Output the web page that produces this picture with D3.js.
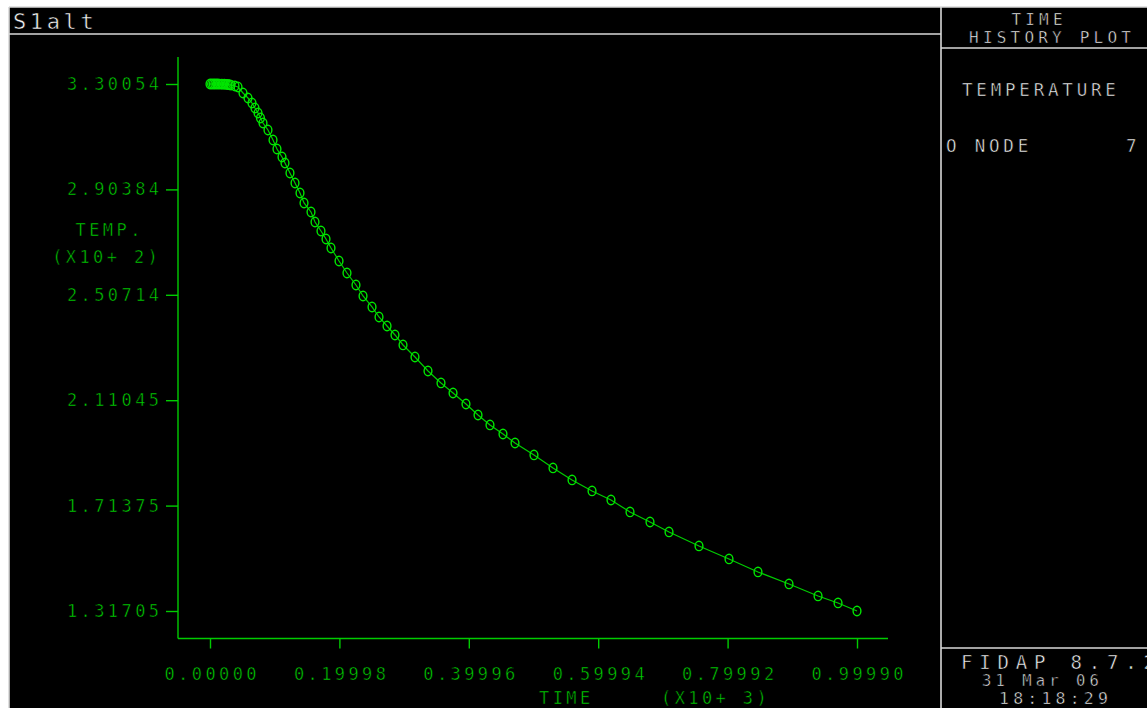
<!DOCTYPE html>
<html>
<head>
<meta charset="utf-8">
<script src="https://cdn.jsdelivr.net/npm/d3@7/dist/d3.min.js"></script>
<style>
  html, body { margin: 0; padding: 0; background: #ffffff; }
  svg { display: block; }
  text {
    font-family: "DejaVu Sans Mono", "Liberation Mono", monospace;
    stroke: #000;
    stroke-width: 0.55px;
  }
</style>
</head>
<body>
<svg id="chart" width="1147" height="708"></svg>
<script>
// Node 7 temperature history (time in s, temperature in K)
const times = [
  0, 2.5, 5, 7.5, 10, 12.5, 15, 17.5, 20, 22.5, 25, 27.5, 30, 32.5, 38.6,
  43.3, 51.0, 58.7, 64.9, 69.5, 74.2, 78.0, 81.9, 89.6, 97.4, 103.5, 111.3,
  115.9, 123.6, 131.4, 139.1, 145.3, 156.1, 162.3, 171.5, 179.3, 187.0,
  199.4, 211.7, 225.6, 236.5, 250.4, 261.2, 273.6, 285.9, 298.3, 316.8,
  336.9, 357.0, 375.6, 395.6, 414.2, 432.7, 452.8, 471.4, 500.7, 530.1,
  559.5, 590.4, 619.7, 649.1, 680.0, 709.4, 755.7, 802.1, 846.9, 894.8,
  939.7, 970.6, 999.9
];
const temps = [
  330.054, 330.054, 330.054, 330.053, 330.05, 330.045, 330.035, 330.02, 330.0,
  329.97, 329.93, 329.87, 329.78, 329.65, 329.3,
  328.92, 326.67, 324.78, 322.90, 321.02, 319.14, 317.26, 315.38, 312.74,
  308.98, 305.59, 302.58, 300.32, 296.56, 292.79, 289.03, 285.27, 281.88,
  278.12, 274.73, 271.72, 268.33, 263.44, 258.92, 254.41, 250.27, 246.13,
  242.36, 238.98, 235.59, 231.83, 227.31, 222.04, 217.53, 213.76, 209.62,
  205.48, 201.72, 198.33, 194.94, 190.43, 185.54, 181.02, 176.88, 173.49,
  168.98, 165.21, 161.45, 156.18, 151.29, 146.40, 141.88, 137.37, 134.73,
  131.705
];

// Axis ticks
const xTicks = [0, 199.98, 399.96, 599.94, 799.92, 999.90];
const xTickLabels = ["0.00000", "0.19998", "0.39996", "0.59994", "0.79992", "0.99990"];
const yTicks = [330.054, 290.384, 250.714, 211.045, 171.375, 131.705];
const yTickLabels = ["3.30054", "2.90384", "2.50714", "2.11045", "1.71375", "1.31705"];

// Text blocks
const titleText = "S1alt";
const panelTitle = ["TIME", "HISTORY PLOT"];
const variableName = "TEMPERATURE";
const nodeLabel = "O NODE";
const nodeNumber = "7";
const footer = ["FIDAP 8.7.2", "31 Mar 06", "18:18:29"];
const yAxisTitle = ["TEMP.", "(X10+ 2)"];
const xAxisTitle = ["TIME", "(X10+ 3)"];

const GREEN = "#00cc00";
const TEXTGREEN = "#00d400";
const MARK = "#00e600";
const WHITE = "#f4f4f4";
const FRAME = "#d8d8d8";

const svg = d3.select("#chart");

// Black display area and frame
svg.append("rect").attr("x", 9).attr("y", 7).attr("width", 1138).attr("height", 701).attr("fill", "#000");
const frame = svg.append("g").attr("stroke", FRAME).attr("stroke-width", 1.6).attr("fill", "none");
frame.append("line").attr("x1", 9).attr("y1", 7).attr("x2", 1147).attr("y2", 7);
frame.append("line").attr("x1", 9).attr("y1", 7).attr("x2", 9).attr("y2", 708);
frame.append("line").attr("x1", 9).attr("y1", 34).attr("x2", 941).attr("y2", 34);
frame.append("line").attr("x1", 941).attr("y1", 7).attr("x2", 941).attr("y2", 708);
frame.append("line").attr("x1", 941).attr("y1", 48).attr("x2", 1147).attr("y2", 48);
frame.append("line").attr("x1", 941).attr("y1", 648).attr("x2", 1147).attr("y2", 648);

function label(txt, x, y, size, spacing, color, anchor) {
  const t = svg.append("text")
    .attr("x", x).attr("y", y)
    .attr("fill", color)
    .attr("font-size", size)
    .attr("dominant-baseline", "central")
    .style("letter-spacing", spacing + "px")
    .text(txt);
  if (anchor === "middle") t.attr("text-anchor", "middle").attr("dx", spacing / 2);
  if (anchor === "end") t.attr("text-anchor", "end").attr("dx", spacing);
  return t;
}

// Title and side panel
label(titleText, 13, 21, 22, 3.6, WHITE, "start");
label(panelTitle[0], 1037, 19.5, 16, 4.2, WHITE, "middle");
label(panelTitle[1], 1050, 37, 16, 4.2, WHITE, "middle");
label(variableName, 962, 90, 17.5, 3.8, WHITE, "start");
label(nodeLabel, 946, 146, 17.5, 3.8, WHITE, "start");
label(nodeNumber, 1126, 146, 17.5, 3.8, WHITE, "start");
label(footer[0], 961, 662, 19, 6.8, WHITE, "start");
label(footer[1], 982, 681, 15.5, 4.1, WHITE, "start");
label(footer[2], 999, 698, 16.5, 4.2, WHITE, "start");

// Scales
const x = d3.scaleLinear().domain([0, 999.9]).range([210, 857]);
const y = d3.scaleLinear().domain([131.705, 330.054]).range([611, 84]);

// Axis lines
const axisG = svg.append("g").attr("stroke", GREEN).attr("stroke-width", 1.4);
axisG.append("line").attr("x1", 178).attr("y1", 57).attr("x2", 178).attr("y2", 638.5);
axisG.append("line").attr("x1", 178).attr("y1", 638.5).attr("x2", 888).attr("y2", 638.5);

// Y axis ticks and labels
const yAxis = d3.axisLeft(y)
  .tickValues(yTicks)
  .tickFormat((d, i) => yTickLabels[i])
  .tickSize(12)
  .tickPadding(7);
const yg = svg.append("g").attr("transform", "translate(178,0)").call(yAxis);
yg.select(".domain").remove();
yg.selectAll(".tick line").attr("stroke", GREEN).attr("stroke-width", 1.4);
yg.selectAll(".tick text")
  .attr("fill", TEXTGREEN)
  .attr("font-size", 17)
  .attr("font-family", "DejaVu Sans Mono, monospace")
  .attr("dx", 3.4)
  .style("letter-spacing", "3.4px");

// X axis ticks and labels
const xAxis = d3.axisBottom(x)
  .tickValues(xTicks)
  .tickFormat((d, i) => xTickLabels[i])
  .tickSize(10)
  .tickPadding(30);
const xg = svg.append("g").attr("transform", "translate(0,638.5)").call(xAxis);
xg.select(".domain").remove();
xg.selectAll(".tick line").attr("stroke", GREEN).attr("stroke-width", 1.4);
xg.selectAll(".tick text")
  .attr("fill", TEXTGREEN)
  .attr("font-size", 17)
  .attr("font-family", "DejaVu Sans Mono, monospace")
  .attr("dy", "0.1em")
  .attr("dx", 1.7)
  .style("letter-spacing", "3.4px");

// Axis titles
label(yAxisTitle[0], 108, 230, 17, 3.4, TEXTGREEN, "middle");
label(yAxisTitle[1], 105, 257, 17, 3.4, TEXTGREEN, "middle");
label(xAxisTitle[0], 539, 698, 17, 3.4, TEXTGREEN, "start");
label(xAxisTitle[1], 661, 698, 17, 3.4, TEXTGREEN, "start");

// Curve and markers
const pts = times.map((t, i) => [t, temps[i]]);
const line = d3.line().x(d => x(d[0])).y(d => y(d[1]));
svg.append("path").datum(pts)
  .attr("d", line)
  .attr("fill", "none")
  .attr("stroke", GREEN)
  .attr("stroke-width", 1.2);

svg.append("g").selectAll("ellipse").data(pts).join("ellipse")
  .attr("cx", d => x(d[0]))
  .attr("cy", d => y(d[1]))
  .attr("rx", 3.9)
  .attr("ry", 4.7)
  .attr("fill", "none")
  .attr("stroke", MARK)
  .attr("stroke-width", 1.4);
</script>
</body>
</html>
